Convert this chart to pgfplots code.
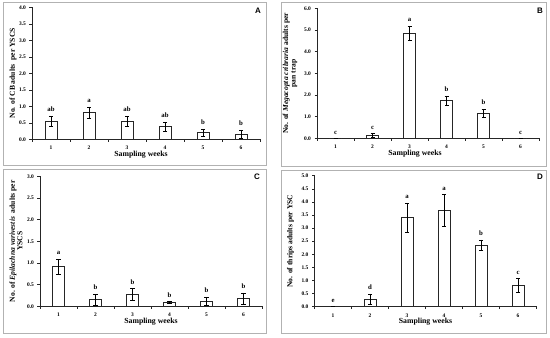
\documentclass[border=0pt]{standalone}
\usepackage{fontspec}
\setmainfont{Liberation Serif}
\newfontfamily\sansb{Liberation Sans}
\usepackage{pgfplots}
\pgfplotsset{compat=1.18}
\pgfplotsset{
  panel/.style={
    scale only axis,
    anchor=south west,
    axis x line*=bottom, axis y line*=left,
    axis line style={line width=0.6bp, black!85},
    xmin=0.5, xmax=6.5, ymin=0,
    xtick={0.5,1.5,...,6.5},
    x tick label as interval,
    xticklabels={1,2,3,4,5,6},
    tick align=outside,
    major tick length=2.5bp,
    every tick/.style={black!85, line width=0.5bp},
    ticklabel style={font=\fontsize{5.5}{6}\selectfont\bfseries},
    yticklabel style={/pgf/number format/.cd, fixed, fixed zerofill, precision=1, assume math mode=true},
    xticklabel style={yshift=-1bp},
    every axis y label/.style={rotate=90, anchor=center, align=center, font=\fontsize{7.6}{7.6}\selectfont\bfseries},
    every axis x label/.style={at={(axis description cs:0.5,0)}, anchor=center, yshift=-15bp, font=\fontsize{7.8}{8}\selectfont\bfseries},
    clip=false,
  },
  barsty/.style={ybar, bar width=12bp, fill=white, draw=black!85, line width=0.7bp,
    error bars/.cd, y dir=both, y explicit,
    error bar style={line width=0.5bp, black},
    error mark options={rotate=90, mark size=2bp, line width=0.5bp, black}},
  letsty/.style={draw=none, mark=none, nodes near coords, point meta=explicit symbolic,
    nodes near coords style={anchor=south, inner sep=1bp, yshift=3bp, font=\fontsize{6.8}{7}\selectfont\bfseries, black}},
}
\begin{document}
\begin{tikzpicture}
\useasboundingbox (0,0) rectangle (550bp,338bp);
% frames
\draw[gray!60, line width=0.8bp] (3bp,336bp) rectangle (266bp,173bp);
\draw[gray!60, line width=0.8bp] (281bp,336bp) rectangle (546bp,172bp);
\draw[gray!60, line width=0.8bp] (3bp,169bp) rectangle (266bp,5bp);
\draw[gray!60, line width=0.8bp] (281bp,168bp) rectangle (546bp,5bp);

% Panel A
\begin{axis}[panel, at={(32bp,198.7bp)}, width=228bp, height=132bp,
  ymax=4, ytick={0,0.5,...,4},
  ylabel={No. of CB adults\ \ per YSCS}, ylabel style={at={([xshift=-19bp]axis description cs:0,0.5)}},
  xlabel={Sampling weeks}, xlabel style={xshift=-5bp}]
\addplot[barsty] table[x=x,y=y,y error=e] {
x y e
1 0.55 0.15
2 0.81 0.17
3 0.55 0.15
4 0.38 0.14
5 0.20 0.11
6 0.15 0.13
};
\addplot[letsty] table[x=x,y expr=\thisrow{y}+\thisrow{e},meta=l] {
x y e l
1 0.55 0.15 ab
2 0.81 0.17 a
3 0.55 0.15 ab
4 0.38 0.14 ab
5 0.20 0.11 b
6 0.15 0.13 b
};
\end{axis}

% Panel B
\begin{axis}[panel, at={(317bp,199.7bp)}, width=222bp, height=130bp,
  ymax=6, ytick={0,1,...,6},
  ylabel={No. of \textit{Megacopta cribraria} adults per\\pan trap}, ylabel style={at={([xshift=-27bp]axis description cs:0,0.5)}},
  xlabel={Sampling weeks}, xlabel style={xshift=-13bp}]
\addplot[barsty] table[x=x,y=y,y error=e] {
x y e
1 0.00 0.00
2 0.14 0.09
3 4.85 0.33
4 1.74 0.22
5 1.15 0.20
6 0.00 0.00
};
\addplot[letsty] table[x=x,y expr=\thisrow{y}+\thisrow{e},meta=l] {
x y e l
1 0.00 0.00 c
2 0.14 0.09 c
3 4.85 0.33 a
4 1.74 0.22 b
5 1.15 0.20 b
6 0.00 0.00 c
};
\end{axis}

% Panel C
\begin{axis}[panel, at={(40bp,31.7bp)}, width=222bp, height=130bp,
  ymax=3, ytick={0,0.5,...,3},
  ylabel={No. of \textit{Epilachna varivestis}\ \ adults per\\YSCS}, ylabel style={at={([xshift=-24bp]axis description cs:0,0.5)}},
  xlabel={Sampling weeks}]
\addplot[barsty] table[x=x,y=y,y error=e] {
x y e
1 0.92 0.17
2 0.15 0.13
3 0.28 0.13
4 0.09 0.02
5 0.12 0.09
6 0.18 0.13
};
\addplot[letsty] table[x=x,y expr=\thisrow{y}+\thisrow{e},meta=l] {
x y e l
1 0.92 0.17 a
2 0.15 0.13 b
3 0.28 0.13 b
4 0.09 0.02 b
5 0.12 0.09 b
6 0.18 0.13 b
};
\end{axis}

% Panel D
\begin{axis}[panel, at={(314.5bp,31.3bp)}, width=222bp, height=131bp,
  ymax=5, ytick={0,0.5,...,5},
  ylabel={No. of thrips adults per YSC}, ylabel style={at={([xshift=-24bp]axis description cs:0,0.5)}},
  xlabel={Sampling weeks}]
\addplot[barsty] table[x=x,y=y,y error=e] {
x y e
1 0.01 0.00
2 0.29 0.20
3 3.40 0.56
4 3.68 0.60
5 2.35 0.20
6 0.81 0.27
};
\addplot[letsty] table[x=x,y expr=\thisrow{y}+\thisrow{e},meta=l] {
x y e l
1 0.01 0.00 e
2 0.29 0.20 d
3 3.40 0.56 a
4 3.68 0.60 a
5 2.35 0.20 b
6 0.81 0.27 c
};
\end{axis}

\node[font=\sansb\fontsize{8}{9}\selectfont\bfseries] at (258bp,327bp) {A};
\node[font=\sansb\fontsize{8}{9}\selectfont\bfseries] at (540bp,327bp) {B};
\node[font=\sansb\fontsize{8}{9}\selectfont\bfseries] at (257bp,161bp) {C};
\node[font=\sansb\fontsize{8}{9}\selectfont\bfseries] at (540bp,161bp) {D};
\end{tikzpicture}
\end{document}
